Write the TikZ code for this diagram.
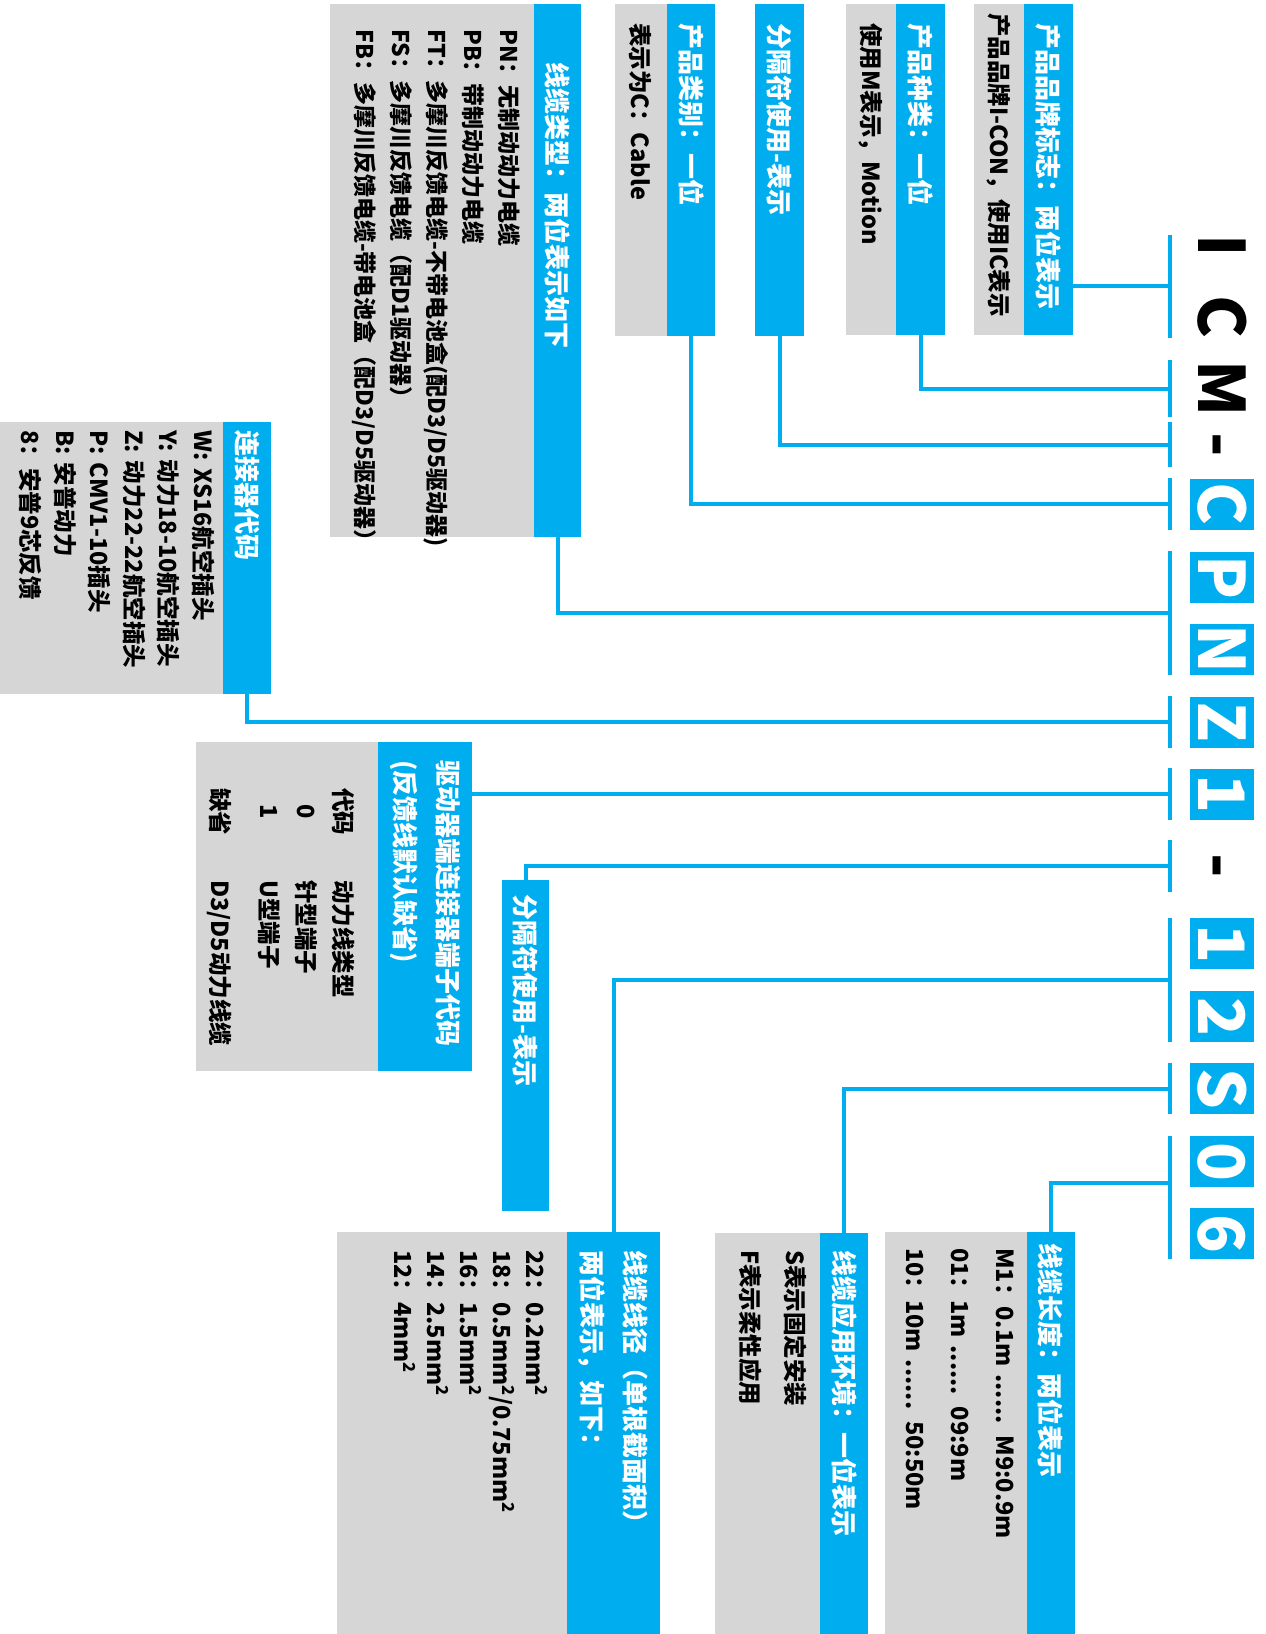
\documentclass[tikz,border=0pt]{standalone}
\usepackage{fontspec}
\setmainfont{Noto Sans CJK SC}
\usepackage{tikz}

\definecolor{icblue}{RGB}{0,174,239}
\definecolor{icgray}{RGB}{214,214,214}

\newcommand{\hdrfont}{\bfseries\fontsize{26}{43}\selectfont}
\newcommand{\bodyfont}[2]{\bfseries\exhyphenpenalty=10000\fontsize{#1}{#2}\selectfont}
\newcommand{\codefont}{\bfseries\fontsize{64}{64}\selectfont}
% pushes the text of a body box a little towards its header
\newcommand{\lift}[1]{\\[-#1]\mbox{}}

\begin{document}
\begin{tikzpicture}[x=1pt, y=-1pt,
    hdr/.style={rotate=-90, fill=icblue, text=white, font=\hdrfont, align=left,
      inner ysep=0pt, inner xsep=19pt, anchor=west},
    body/.style={rotate=-90, fill=icgray, text=black, align=left,
      inner ysep=0pt, inner xsep=19pt, anchor=north},
    codech/.style={rotate=-90, font=\codefont, inner sep=0pt, anchor=base},
    codebox/.style={rotate=-90, fill=icblue, text=white, font=\codefont,
      inner sep=0pt, minimum width=51pt, minimum height=64pt},
    link/.style={icblue, line width=4pt}]
  \useasboundingbox (0,0) rectangle (1266,1634);

  % code line
  \node[codech] (cI) at (1198,246) {I};
  \node[codech] (cC) at (1198,316.5) {C};
  \node[codech] (cM) at (1198,388.5) {M};
  \node[codech, minimum width=45pt] (cda) at (1198,444.5) {-};
  \node[codech, minimum width=51pt] (cdb) at (1198,866) {-};
  \foreach \ch/\yy/\nm in {C/504/kc, P/577/kp, N/649/kn, Z/722/kz, 1/794/ka,
      1/943.5/kb, 2/1016.5/kd, S/1088.5/ks, 0/1161.5/ko, 6/1233.5/kx}
    \node[codebox] (\nm) at (1222,\yy) {\ch};

  % brackets under the code
  \coordinate (bar) at (1170,0);
  \draw[link] (cI.west -| bar) -- coordinate[midway] (tic) (cC.east -| bar);
  \draw[link] (cM.west -| bar) -- coordinate[midway] (tm) (cM.east -| bar);
  \draw[link] (cda.west -| bar) -- coordinate[midway] (tda) (cda.east -| bar);
  \draw[link] (kc.west -| bar) -- coordinate[midway] (tc) (kc.east -| bar);
  \draw[link] (kp.west -| bar) -- coordinate[midway] (tpn) (kn.east -| bar);
  \draw[link] (kz.west -| bar) -- coordinate[midway] (tz) (kz.east -| bar);
  \draw[link] (ka.west -| bar) -- coordinate[midway] (ta) (ka.east -| bar);
  \draw[link] (cdb.west -| bar) -- coordinate[midway] (tdb) (cdb.east -| bar);
  \draw[link] (kb.west -| bar) -- coordinate[midway] (ttw) (kd.east -| bar);
  \draw[link] (ks.west -| bar) -- coordinate[midway] (ts) (ks.east -| bar);
  \draw[link] (ko.west -| bar) -- coordinate[pos=0.38] (tox) (kx.east -| bar);

  % upper boxes
  \node[hdr, text width=293pt, minimum height=49pt] (brandh) at (1048.5,4) {产品品牌标志：两位表示};
  \node[body, font={\bodyfont{23.5}{36}}, inner xsep=9pt, text width=313pt, minimum height=50pt]
    (brandb) at (brandh.south) {产品品牌I-CON，使用IC表示};
  \node[hdr, text width=293pt, minimum height=49pt] (kindh) at (920.5,4) {产品种类：一位};
  \node[body, font={\bodyfont{23.5}{36}}, text width=293pt, minimum height=50pt]
    (kindb) at (kindh.south) {使用M表示，Motion};
  \node[hdr, text width=294pt, minimum height=49pt] (sepah) at (779.5,4) {分隔符使用-表示};
  \node[hdr, text width=294pt, minimum height=48pt] (cath) at (691,4) {产品类别：一位};
  \node[body, font={\bodyfont{23.5}{36}}, text width=294pt, minimum height=52pt]
    (catb) at (cath.south) {表示为C：Cable};
  \node[hdr, inner xsep=58pt, text width=417pt, minimum height=47pt] (typeh) at (557.5,4) {线缆类型：两位表示如下};
  \node[body, font={\bodyfont{23}{36}}, inner xsep=25pt, text width=483pt, minimum height=204pt]
    (typeb) at (typeh.south) {PN：无制动动力电缆\\
    PB：带制动动力电缆\\
    FT：多摩川反馈电缆-不带电池盒(配D3/D5驱动器)\\
    FS：多摩川反馈电缆（配D1驱动器）\\
    FB：多摩川反馈电缆-带电池盒（配D3/D5驱动器）\lift{22pt}};

  % middle boxes
  \node[hdr, inner xsep=8pt, text width=256pt, minimum height=48pt] (connh) at (247,422) {连接器代码};
  \node[body, font={\bodyfont{23.5}{34.5}}, inner xsep=8pt, text width=256pt, minimum height=223pt]
    (connb) at (connh.south) {W: XS16航空插头\\
    Y: 动力18-10航空插头\\
    Z: 动力22-22航空插头\\
    P: CMV1-10插头\\
    B: 安普动力\\
    8：安普9芯反馈\lift{20pt}};
  \node[hdr, inner xsep=18pt, text width=293pt, minimum height=94pt] (driveh) at (425,742)
    {驱动器端连接器端子代码\\(反馈线默认缺省)};
  \node[body, font={\bodyfont{23.5}{37}}, inner xsep=46pt, text width=237pt, minimum height=182pt]
    (driveb) at (driveh.south) {\begin{tabular}{@{}c@{\hspace{45pt}}l@{}}
    代码 & 动力线类型\\
    0 & 针型端子\\
    1 & U型端子\\[12pt]
    缺省 & D3/D5动力线缆
    \end{tabular}\lift{14pt}};
  \node[hdr, inner xsep=14pt, text width=303pt, minimum height=47pt] (sepbh) at (525.5,880) {分隔符使用-表示};

  % lower boxes
  \node[hdr, inner xsep=18pt, text width=366pt, minimum height=93pt] (gaugeh) at (613.5,1232)
    {线缆线径（单根截面积）\\两位表示，如下：};
  \node[body, font={\bodyfont{23.5}{33}}, inner xsep=18pt, text width=366pt, minimum height=230pt]
    (gaugeb) at (gaugeh.south) {22：0.2mm\textsuperscript{2}\\
    18：0.5mm\textsuperscript{2}/0.75mm\textsuperscript{2}\\
    16：1.5mm\textsuperscript{2}\\
    14：2.5mm\textsuperscript{2}\\
    12：4mm\textsuperscript{2}\\[5pt]
    \mbox{}};
  \node[hdr, inner xsep=17pt, text width=367pt, minimum height=48pt] (envh) at (844,1233) {线缆应用环境：一位表示};
  \node[body, font={\bodyfont{23.5}{45}}, inner xsep=17pt, text width=367pt, minimum height=105pt]
    (envb) at (envh.south) {S表示固定安装\\F表示柔性应用\lift{31pt}};
  \node[hdr, inner xsep=11pt, text width=380pt, minimum height=48pt] (lenh) at (1051,1232) {线缆长度：两位表示};
  \node[body, font={\bodyfont{23.5}{45}}, inner xsep=16pt, text width=370pt, minimum height=142pt]
    (lenb) at (lenh.south) {M1：0.1m ...... M9:0.9m\\
    01：1m ...... 09:9m\\
    10：10m ...... 50:50m\lift{35pt}};

  % connectors
  \draw[link] (tic) -- (tic -| brandh.north);
  \draw[link] (tm) -| (kindh.east);
  \draw[link] (tda) -| (sepah.east);
  \draw[link] (tc) -| (cath.east);
  \draw[link] (tpn) -| (typeh.east);
  \draw[link] (tz) -| (connh.east);
  \draw[link] (ta) -- (ta -| driveh.north);
  \draw[link] (tdb) -| (sepbh.west);
  \draw[link] (ttw) -| (gaugeh.west);
  \draw[link] (ts) -| (envh.west);
  \draw[link] (tox) -| (lenh.west);
\end{tikzpicture}
\end{document}
